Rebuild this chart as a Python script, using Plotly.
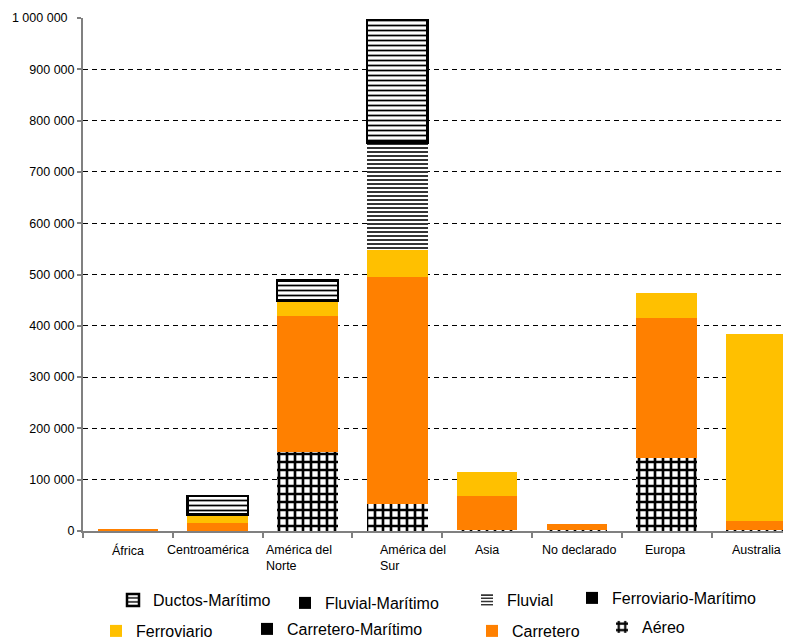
import plotly.graph_objects as go

# ---------------- data ----------------
categories = ["África", "Centroamérica", "América del Norte", "América del Sur",
              "Asia", "No declarado", "Europa", "Australia"]
category_labels = ["África", "Centroamérica", "América del<br>Norte", "América del<br>Sur",
                   "Asia", "No declarado", "Europa", "Australia"]

aereo = [0, 0, 154000, 53000, 1500, 2000, 142000, 1500]
carretero = [2500, 16000, 266000, 442000, 67000, 12000, 274000, 18000]
carretero_maritimo = [0, 0, 0, 0, 0, 0, 0, 0]
ferroviario = [0, 16500, 29000, 53000, 46000, 0, 48000, 364500]
ferroviario_maritimo = [0, 0, 0, 0, 0, 0, 0, 0]
fluvial = [0, 0, 0, 209000, 0, 0, 0, 0]
fluvial_maritimo = [0, 0, 0, 0, 0, 0, 0, 0]
ductos_maritimo = [0, 36000, 39000, 239000, 0, 0, 0, 0]

y_tick_values = [0, 100000, 200000, 300000, 400000, 500000, 600000, 700000, 800000, 900000, 1000000]
y_tick_labels = ["0", "100 000", "200 000", "300 000", "400 000", "500 000",
                 "600 000", "700 000", "800 000", "900 000", "1 000 000\u00a0\u00a0"]

# ---------------- styling ----------------
FONT = "Liberation Sans, Arial, sans-serif"
# the page body has an 8px margin, so the figure is drawn 8px in from the top-left
OFF = 8
W, H = 791 - OFF, 639 - OFF
YELLOW = "#FFC000"
ORANGE = "#FF8000"

series = [
    ("Aéreo", aereo, dict(color="white", line=dict(width=0),
                          pattern=dict(shape="+", fgcolor="black", bgcolor="white", fgopacity=1,
                                       size=8, solidity=0.55, fillmode="overlay"))),
    ("Carretero", carretero, dict(color=ORANGE, line=dict(width=0))),
    ("Carretero-Marítimo", carretero_maritimo, dict(color="black", line=dict(width=0))),
    ("Ferroviario", ferroviario, dict(color=YELLOW, line=dict(width=0))),
    ("Ferroviario-Marítimo", ferroviario_maritimo, dict(color="black", line=dict(width=0))),
    ("Fluvial", fluvial, dict(color="white", line=dict(width=0),
                              pattern=dict(shape="-", fgcolor="black", bgcolor="white", fgopacity=1,
                                           size=4, solidity=0.4, fillmode="overlay"))),
    ("Fluvial-Marítimo", fluvial_maritimo, dict(color="black", line=dict(width=0))),
    ("Ductos-Marítimo", ductos_maritimo, dict(color="white", line=dict(width=2.5, color="black"),
                                              pattern=dict(shape="-", fgcolor="black", bgcolor="white",
                                                           fgopacity=1, size=5, solidity=0.35,
                                                           fillmode="overlay"))),
]

# legend placement (text start x, text centre y) in page pixels
legend_pos = {
    "Ductos-Marítimo": (153, 600),
    "Fluvial-Marítimo": (325, 603),
    "Fluvial": (507, 600),
    "Ferroviario-Marítimo": (612, 598),
    "Ferroviario": (136, 631),
    "Carretero-Marítimo": (287, 629),
    "Carretero": (512, 631),
    "Aéreo": (642, 627),
}

fig = go.Figure()
layout_legends = {}
for i, (name, vals, marker) in enumerate(series):
    key = f"legend{i+2}"
    fig.add_trace(go.Bar(x=categories, y=[v if v else None for v in vals], name=name,
                         marker=marker, width=0.675, legend=key))
    tx, ty = legend_pos[name]
    layout_legends[key] = dict(
        x=(tx - OFF - 40) / W, y=1 - (ty - OFF) / H, xref="container", yref="container",
        xanchor="left", yanchor="middle", bgcolor="rgba(0,0,0,0)", borderwidth=0,
        font=dict(family=FONT, size=16, color="black"),
    )

label_shift = [0, -10, -9, 16, 0, 2, -2, 0]
annotations = []
for cat, lab, sh in zip(categories, category_labels, label_shift):
    annotations.append(dict(
        x=cat, xref="x", y=0, yref="paper", yanchor="top", xanchor="center",
        yshift=-10, xshift=sh, text=lab, align="left", showarrow=False,
        font=dict(family=FONT, size=12.5, color="black"),
    ))

fig.update_layout(
    width=W, height=H,
    margin=dict(l=83 - OFF, r=0, t=18 - OFF, b=639 - 531, autoexpand=False),
    paper_bgcolor="white", plot_bgcolor="white",
    barmode="stack",
    font=dict(family=FONT, size=12.5, color="black"),
    annotations=annotations,
    **layout_legends,
)
fig.update_xaxes(
    type="category", range=[-0.5, 7.384], tickson="boundaries",
    showticklabels=False, ticks="outside", ticklen=5, tickwidth=1.5, tickcolor="#808080",
    showline=True, linecolor="#808080", linewidth=2, showgrid=False, zeroline=False,
    automargin=False,
)
fig.update_yaxes(
    range=[0, 1000000], tickvals=y_tick_values, ticktext=y_tick_labels,
    ticks="outside", ticklen=4, tickcolor="#808080", tickwidth=1.5,
    showline=True, linecolor="#808080", linewidth=2,
    showgrid=True, gridcolor="black", gridwidth=1, griddash="5px,4px",
    zeroline=False, tickfont=dict(family=FONT, size=12.5, color="black"),
    automargin=False,
)

fig.write_html("out.html")
